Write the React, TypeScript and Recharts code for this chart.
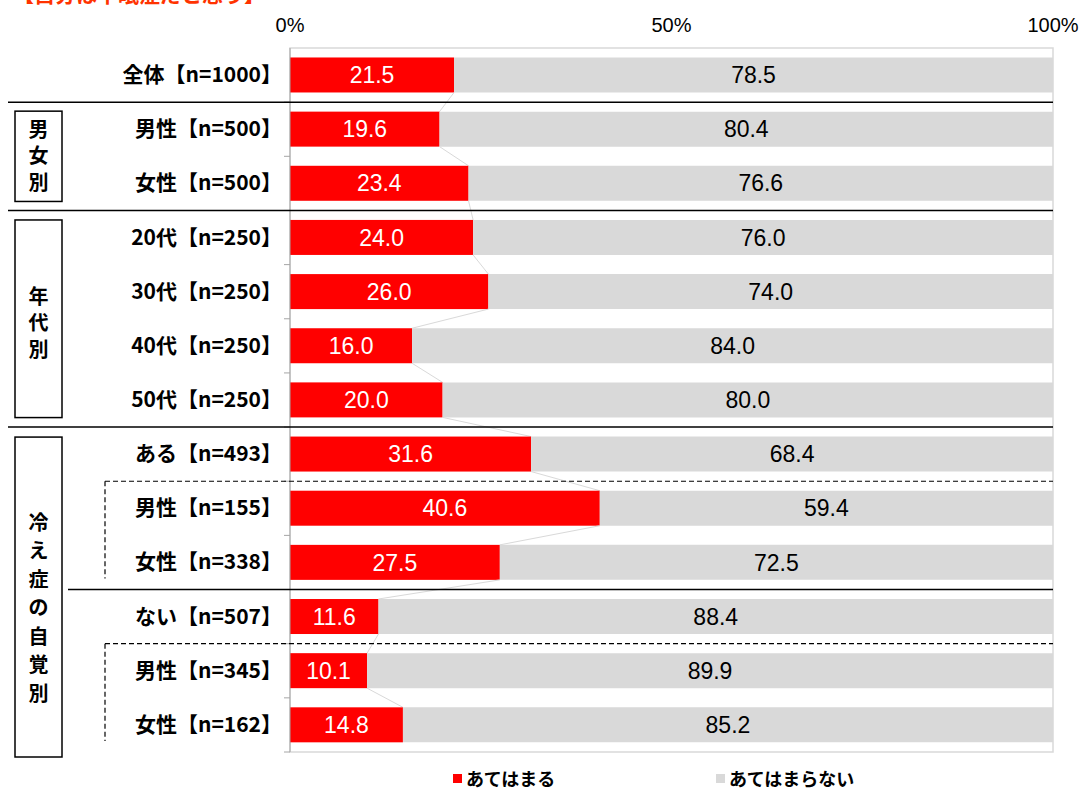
import React from "react";
import {
    BarChart,
    Bar,
    XAxis,
    YAxis,
    ReferenceArea,
    LabelList,
} from "recharts";

const categories = [
    "全体【n=1000】",
    "男性【n=500】",
    "女性【n=500】",
    "20代【n=250】",
    "30代【n=250】",
    "40代【n=250】",
    "50代【n=250】",
    "ある【n=493】",
    "男性【n=155】",
    "女性【n=338】",
    "ない【n=507】",
    "男性【n=345】",
    "女性【n=162】",
];
const applies = [21.5, 19.6, 23.4, 24.0, 26.0, 16.0, 20.0, 31.6, 40.6, 27.5, 11.6, 10.1, 14.8];
const notApplies = [78.5, 80.4, 76.6, 76.0, 74.0, 84.0, 80.0, 68.4, 59.4, 72.5, 88.4, 89.9, 85.2];
const xTicks = [0, 50, 100];
const seriesNames = ["あてはまる", "あてはまらない"];
const title = "【自分は不眠症だと思う】";

// row groups (index ranges into categories)
const groups = [
    { label: "男女別", first: 1, last: 2 },
    { label: "年代別", first: 3, last: 6 },
    { label: "冷え症の自覚別", first: 7, last: 12 },
];
const subGroups = [
    { first: 8, last: 9 },
    { first: 11, last: 12 },
];

const RED = "#ff0000";
const GREY = "#d9d9d9";
const FONT = "'Noto Sans CJK JP', 'Noto Sans', sans-serif";
const NUM_FONT = "'Liberation Sans', Arial, sans-serif";

const W = 1085;
const H = 793;
const PLOT_LEFT = 290;
const PLOT_RIGHT = 1053;
const PLOT_TOP = 48;
const PLOT_BOTTOM = 752;
const BAND = (PLOT_BOTTOM - PLOT_TOP) / categories.length;

const data = categories.map((name, i) => ({
    name,
    applies: applies[i],
    notApplies: notApplies[i],
}));

const RedBar = (props: any) => {
    const { x, y, width, height, index } = props;
    const cur = applies[index];
    const next = applies[index + 1];
    return (
        <g>
            <rect x={x} y={y} width={width} height={height} fill={RED} />
            {next !== undefined && (
                <line
                    x1={x + width}
                    y1={y + height}
                    x2={x + (width * next) / cur}
                    y2={y + BAND}
                    stroke={GREY}
                    strokeWidth={1}
                />
            )}
        </g>
    );
};

const CategoryTick = (props: any) => {
    const { x, y, payload } = props;
    return (
        <text
            x={x}
            y={y}
            dy={7}
            textAnchor="end"
            fontFamily={FONT}
            fontWeight="bold"
            fontSize={21}
            fill="#000"
        >
            {payload.value}
        </text>
    );
};

const LegendBox = () => (
    <div
        style={{
            position: "absolute",
            left: 0,
            top: 766,
            width: W,
            height: 24,
            fontFamily: FONT,
            fontWeight: "bold",
            fontSize: 18,
            color: "#000",
        }}
    >
        {seriesNames.map((n, i) => (
            <div
                key={n}
                style={{
                    position: "absolute",
                    left: i === 0 ? 453 : 716,
                    top: 0,
                    display: "flex",
                    alignItems: "center",
                    lineHeight: "24px",
                }}
            >
                <span
                    style={{
                        width: 9,
                        height: 9,
                        background: i === 0 ? RED : GREY,
                        marginRight: 4,
                        display: "inline-block",
                    }}
                />
                <span>{n}</span>
            </div>
        ))}
    </div>
);

const bandTop = (i: number) => PLOT_TOP + i * BAND;

function Decorations() {
    const solid = [
        { y: bandTop(1), x: 8 },
        { y: bandTop(3), x: 8 },
        { y: bandTop(7), x: 8 },
        { y: bandTop(10), x: 68 },
    ];
    const boxes = [
        { top: bandTop(1) + 9, bottom: bandTop(3) - 9, center: 156, step: 26.5 },
        { top: bandTop(3) + 9.5, bottom: bandTop(7) - 9.5, center: 323, step: 26.5 },
        { top: bandTop(7) + 10, bottom: 757, center: 608, step: 28.5 },
    ];
    return (
        <svg
            width={W}
            height={H}
            style={{ position: "absolute", left: 0, top: 0, pointerEvents: "none" }}
        >
            {categories.map((_, i) => (
                <line
                    key={"t" + i}
                    x1={PLOT_LEFT - 6}
                    x2={PLOT_LEFT}
                    y1={bandTop(i + 1)}
                    y2={bandTop(i + 1)}
                    stroke="#a6a6a6"
                />
            ))}
            {solid.map((s, i) => (
                <line
                    key={"s" + i}
                    x1={s.x}
                    x2={PLOT_RIGHT}
                    y1={s.y}
                    y2={s.y}
                    stroke="#000"
                    strokeWidth={1.5}
                />
            ))}
            {subGroups.map((g, i) => (
                <g key={"d" + i}>
                    <line
                        x1={105}
                        x2={PLOT_RIGHT}
                        y1={bandTop(g.first)}
                        y2={bandTop(g.first)}
                        stroke="#000"
                        strokeWidth={1.2}
                        strokeDasharray="5 3"
                    />
                    <line
                        x1={105}
                        x2={105}
                        y1={bandTop(g.first)}
                        y2={bandTop(g.last + 1) - 11}
                        stroke="#000"
                        strokeWidth={1.2}
                        strokeDasharray="5 3"
                    />
                </g>
            ))}
            {groups.map((g, i) => {
                const b = boxes[i];
                const chars = Array.from(g.label);
                const start = b.center - ((chars.length - 1) * b.step) / 2;
                return (
                    <g key={"g" + i}>
                        <rect
                            x={15}
                            y={b.top}
                            width={47}
                            height={b.bottom - b.top}
                            fill="#fff"
                            stroke="#000"
                            strokeWidth={1.5}
                        />
                        {chars.map((c, j) => (
                            <text
                                key={j}
                                x={38.5}
                                y={start + j * b.step}
                                dy={7}
                                textAnchor="middle"
                                fontFamily={FONT}
                                fontWeight="bold"
                                fontSize={20}
                                fill="#000"
                            >
                                {c}
                            </text>
                        ))}
                    </g>
                );
            })}
        </svg>
    );
}

export default function App() {
    return (
        <div
            style={{
                position: "absolute",
                left: 0,
                top: 0,
                width: W,
                height: H,
                background: "#fff",
                overflow: "hidden",
            }}
        >
            <div
                style={{
                    position: "absolute",
                    left: 13,
                    top: -22,
                    fontFamily: FONT,
                    fontWeight: "bold",
                    fontSize: 21,
                    color: "#ff3300",
                    whiteSpace: "nowrap",
                }}
            >
                {title}
            </div>
            <BarChart
                width={W}
                height={H}
                data={data}
                layout="vertical"
                margin={{ top: 0, right: W - PLOT_RIGHT, bottom: H - PLOT_BOTTOM, left: 8 }}
                barCategoryGap="17.5%"
            >
                <XAxis
                    type="number"
                    orientation="top"
                    domain={[0, 100]}
                    ticks={xTicks}
                    tickFormatter={(v) => `${v}%`}
                    height={PLOT_TOP}
                    axisLine={false}
                    tickLine={false}
                    tickSize={14}
                    tickMargin={2}
                    tick={{ fill: "#000", fontSize: 20, fontFamily: NUM_FONT }}
                />
                <YAxis
                    type="category"
                    dataKey="name"
                    width={PLOT_LEFT - 8}
                    tickLine={false}
                    tickMargin={2}
                    axisLine={{ stroke: "#a6a6a6" }}
                    tick={<CategoryTick />}
                    interval={0}
                />
                <ReferenceArea x1={0} x2={100} fill="none" stroke={GREY} strokeWidth={1.5} />
                <Bar
                    dataKey="applies"
                    name={seriesNames[0]}
                    stackId="a"
                    fill={RED}
                    shape={<RedBar />}
                    isAnimationActive={false}
                >
                    <LabelList
                        dataKey="applies"
                        position="center"
                        formatter={(v: number) => v.toFixed(1)}
                        fill="#fff"
                        fontSize={23}
                        fontFamily={NUM_FONT}
                    />
                </Bar>
                <Bar
                    dataKey="notApplies"
                    name={seriesNames[1]}
                    stackId="a"
                    fill={GREY}
                    isAnimationActive={false}
                >
                    <LabelList
                        dataKey="notApplies"
                        position="center"
                        formatter={(v: number) => v.toFixed(1)}
                        fill="#000"
                        fontSize={23}
                        fontFamily={NUM_FONT}
                    />
                </Bar>
            </BarChart>
            <Decorations />
            <LegendBox />
        </div>
    );
}
